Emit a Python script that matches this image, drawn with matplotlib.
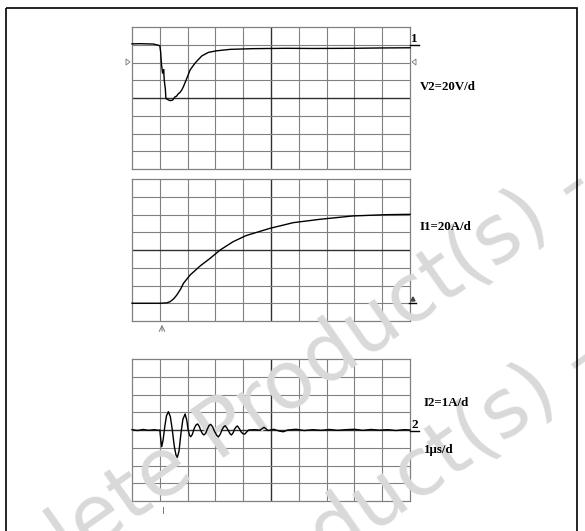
import matplotlib
matplotlib.use("Agg")
import matplotlib.pyplot as plt
from matplotlib.patches import Rectangle, Polygon

# ---------------- data (divisions: x 0..10, y -4..4) ----------------
v2_t = [0, 0.3, 0.77, 1.0, 1.03, 1.06, 1.1, 1.14, 1.16, 1.2, 1.22, 1.3, 1.37,
        1.46, 1.55, 1.6, 1.67, 1.72, 1.79, 1.85, 1.97, 2.09, 2.27, 2.51, 2.75,
        3.05, 3.53, 4.36, 5.56, 6.5, 7.96, 9.0, 10]
v2_y = [3.05, 3.06, 3.04, 2.95, 2.6, 1.9, 1.4, 1.6, 1.0, 0.5, -0.02, -0.1,
        -0.15, -0.12, 0.07, 0.1, 0.25, 0.3, 0.45, 0.64, 1.1, 1.58, 1.97, 2.37,
        2.57, 2.66, 2.74, 2.78, 2.8, 2.79, 2.8, 2.82, 2.83]

i1_t = [0, 0.5, 1.0, 1.25, 1.37, 1.5, 1.61, 1.75, 1.85, 2.09, 2.45, 2.81,
        3.17, 3.64, 4.1, 4.96, 5.8, 6.76, 7.96, 9.16, 10]
i1_y = [-3.0, -3.0, -3.0, -2.98, -2.91, -2.75, -2.54, -2.2, -1.88, -1.41,
        -0.9, -0.47, 0.0, 0.47, 0.81, 1.22, 1.54, 1.73, 1.92, 1.99, 2.01]

i2_t = [0, 0.2, 0.4, 0.6, 0.8, 0.95, 1.0, 1.04, 1.07, 1.12, 1.18, 1.24, 1.31,
        1.38, 1.45, 1.52, 1.58, 1.63, 1.69, 1.76, 1.83, 1.91, 1.97, 2.02,
        2.07, 2.11, 2.17, 2.24, 2.31, 2.36, 2.42, 2.48, 2.54, 2.59, 2.65,
        2.71, 2.77, 2.83, 2.9, 2.97, 3.05, 3.11, 3.18, 3.24, 3.3, 3.35, 3.41,
        3.47, 3.53, 3.58, 3.64, 3.69, 3.75, 3.79, 3.86, 3.93, 4.0, 4.06,
        4.13, 4.2, 4.4, 4.6, 4.75, 4.9, 5.1, 5.3, 5.44, 5.6, 5.9, 6.2, 6.5,
        6.8, 7.1, 7.4, 7.7, 8.0, 8.3, 8.6, 8.9, 9.2, 9.5, 9.8, 10]
i2_y = [0.02, -0.03, 0.03, -0.02, 0.02, -0.02, 0.0, -0.6, -0.94, -0.55, 0.2,
        0.8, 1.03, 0.75, 0.0, -0.9, -1.4, -1.54, -1.2, -0.2, 0.6, 0.9, 0.55,
        0.0, -0.3, -0.38, -0.25, 0.1, 0.3, 0.34, 0.2, -0.05, -0.22, -0.28,
        -0.18, 0.05, 0.25, 0.32, 0.18, -0.08, -0.3, -0.39, -0.22, 0.02, 0.18,
        0.24, 0.12, -0.05, -0.22, -0.28, -0.15, 0.05, 0.18, 0.23, 0.08,
        -0.12, -0.22, -0.23, -0.1, 0.0, 0.02, -0.01, 0.15, -0.03, 0.04,
        -0.06, -0.1, 0.0, 0.04, -0.03, 0.02, -0.02, 0.03, -0.02, 0.02, 0.04,
        -0.02, 0.03, -0.01, 0.02, -0.03, 0.02, 0.0]

labels = ["V2=20V/d", "I1=20A/d", "I2=1A/d", "1\u03bcs/d"]
watermark = "Obsolete Product(s) -"

# ---------------- figure ----------------
W, H = 585, 531
fig = plt.figure(figsize=(W / 100, H / 100), dpi=100)
fig.patch.set_facecolor("white")

GRID = "#808080"
DARK = "#303030"


def panel(top_px, t, y):
    left, right, bottom = 132, 410, top_px + 142
    rect = [left / W, 1 - bottom / H, (right - left) / W, 142 / H]
    ax = fig.add_axes(rect, zorder=1)
    ax.set_xlim(0, 10)
    ax.set_ylim(-4, 4)
    ax.set_xticks([])
    ax.set_yticks([])
    for s in ax.spines.values():
        s.set_color(GRID)
        s.set_linewidth(0.9)
    for xv in range(1, 10):
        ax.axvline(xv, color=DARK if xv == 5 else GRID,
                   lw=1.0 if xv == 5 else 0.8, zorder=1)
    for yv in range(-3, 4):
        ax.axhline(yv, color=DARK if yv == 0 else GRID,
                   lw=1.0 if yv == 0 else 0.8, zorder=1)
    # trace on a transparent axes above the watermark
    tx = fig.add_axes(rect, zorder=20)
    tx.set_xlim(0, 10)
    tx.set_ylim(-4, 4)
    tx.axis("off")
    tx.patch.set_alpha(0)
    tx.plot(t, y, color="black", lw=1.0, clip_on=False)
    return ax


panel(27, v2_t, v2_y)
panel(179, i1_t, i1_y)
panel(359, i2_t, i2_y)

# watermark layer (above grid, below traces and labels)
wl = fig.add_axes([0, 0, 1, 1], zorder=10)
wl.set_xlim(0, W)
wl.set_ylim(H, 0)
wl.axis("off")
wl.patch.set_alpha(0)
wm = dict(family="DejaVu Sans", fontsize=58, color="#d9d9d9", rotation=35,
          rotation_mode="anchor", ha="right", va="baseline")
wl.text(598, 196, watermark, **wm)
wl.text(606, 370, watermark, **wm)

# overlay in pixel coordinates
ov = fig.add_axes([0, 0, 1, 1], zorder=30)
ov.set_xlim(0, W)
ov.set_ylim(H, 0)
ov.axis("off")
ov.patch.set_alpha(0)

# outer frame
ov.add_patch(Rectangle((6, 8), 571, 540, fill=False, ec="black", lw=1.2))

serif = dict(family="Liberation Serif", weight="bold", fontsize=9.3,
             color="black", va="center", ha="left")
ov.text(420, 87, labels[0], **serif)
ov.text(420, 227, labels[1], **serif)
ov.text(424, 403, labels[2], **serif)
ov.text(424, 450, labels[3], **serif)

# channel markers
mk = dict(family="Liberation Serif", weight="bold", fontsize=9.5,
          color="black", ha="left", va="bottom")
ov.text(411, 45, "1", **mk)
ov.plot([410, 419], [45, 45], color="black", lw=1.0)
ov.text(411, 431, "2", **mk)
ov.plot([410, 419], [431, 431], color="black", lw=1.0)
ov.plot([409, 416], [303, 303], color="black", lw=1.0)
ov.add_patch(Polygon([[411, 301], [415, 301], [413, 297]], closed=True,
                     color="#444444"))
ov.add_patch(Polygon([[126, 59], [126, 65], [130, 62]], closed=True,
                     fill=False, ec="#777777", lw=0.6))
ov.add_patch(Polygon([[416, 59], [416, 65], [412, 62]], closed=True,
                     fill=False, ec="#777777", lw=0.6))
ov.annotate("", xy=(162, 322), xytext=(162, 334),
            arrowprops=dict(arrowstyle="->", color="#777777", lw=0.7))
ov.plot([163, 163], [507, 513], color="#777777", lw=0.7)

fig.savefig("out.png", dpi=100, facecolor="white")
